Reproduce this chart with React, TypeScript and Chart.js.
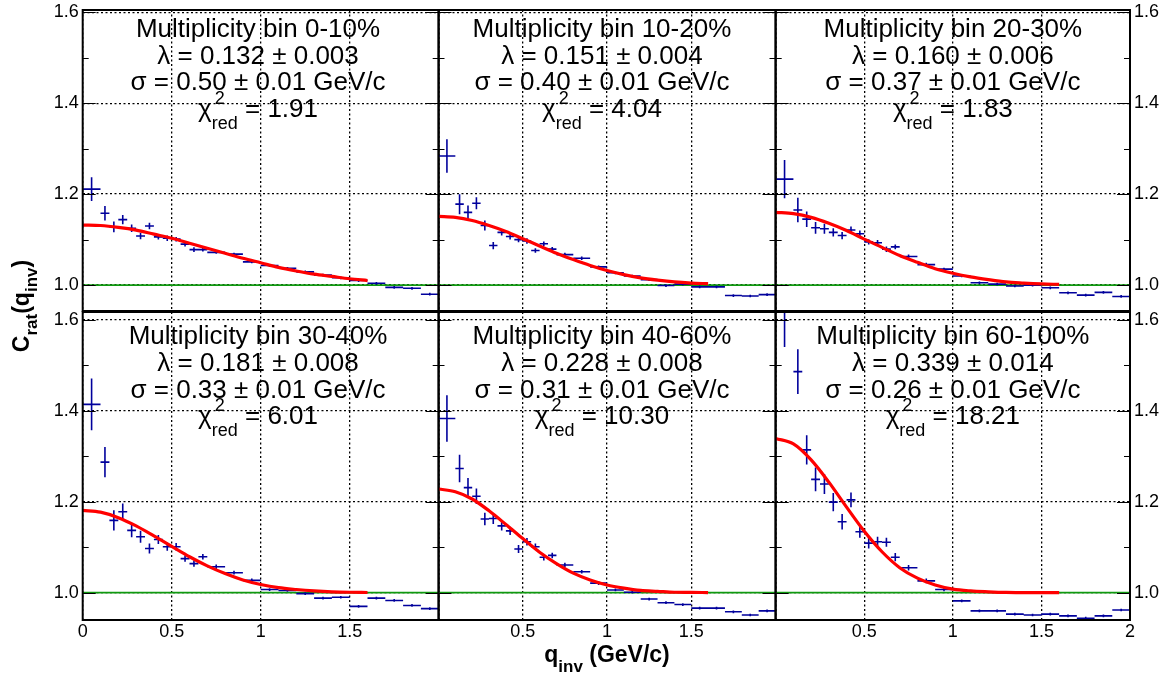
import React, { useEffect, useRef } from 'react';
import { Chart, registerables } from 'chart.js';

Chart.register(...registerables);

const W = 1168;
const H = 680;
const FONT = "'Liberation Sans', Arial, Helvetica, sans-serif";

// ---- data ----
const qCenters = [0.05, 0.125, 0.175, 0.225, 0.275, 0.325, 0.375, 0.425, 0.475, 0.525, 0.575, 0.625, 0.675,
  0.75, 0.85, 0.95, 1.05, 1.15, 1.25, 1.35, 1.45, 1.55, 1.65, 1.75, 1.85, 1.95];
const qHalfWidths = [0.05, 0.025, 0.025, 0.025, 0.025, 0.025, 0.025, 0.025, 0.025, 0.025, 0.025, 0.025, 0.025,
  0.05, 0.05, 0.05, 0.05, 0.05, 0.05, 0.05, 0.05, 0.05, 0.05, 0.05, 0.05, 0.05];

const c0_10 = [1.211, 1.158, 1.128, 1.144, 1.125, 1.108, 1.130, 1.106, 1.103, 1.101, 1.090, 1.078, 1.078,
  1.072, 1.068, 1.051, 1.043, 1.037, 1.029, 1.022, 1.016, 1.010, 1.004, 0.995, 0.993, 0.980];
const e0_10 = [0.026, 0.016, 0.012, 0.010, 0.008, 0.007, 0.007, 0.006, 0.006, 0.005, 0.005, 0.005, 0.004,
  0.003, 0.003, 0.003, 0.003, 0.003, 0.003, 0.003, 0.003, 0.003, 0.003, 0.003, 0.003, 0.003];

const c10_20 = [1.284, 1.178, 1.160, 1.180, 1.131, 1.087, 1.116, 1.107, 1.100, 1.097, 1.076, 1.091, 1.079,
  1.067, 1.059, 1.040, 1.027, 1.020, 1.012, 0.999, 1.002, 0.996, 0.996, 0.977, 0.976, 0.979];
const e10_20 = [0.037, 0.022, 0.015, 0.013, 0.011, 0.008, 0.007, 0.007, 0.006, 0.006, 0.005, 0.005, 0.005,
  0.004, 0.004, 0.003, 0.003, 0.003, 0.003, 0.003, 0.003, 0.003, 0.003, 0.003, 0.003, 0.003];

const c20_30 = [1.233, 1.165, 1.145, 1.126, 1.124, 1.116, 1.109, 1.121, 1.113, 1.095, 1.093, 1.079, 1.084,
  1.063, 1.045, 1.035, 1.020, 1.005, 1.002, 0.998, 1.000, 0.994, 0.983, 0.978, 0.984, 0.975];
const e20_30 = [0.042, 0.027, 0.017, 0.013, 0.011, 0.009, 0.008, 0.008, 0.007, 0.006, 0.006, 0.006, 0.005,
  0.004, 0.004, 0.003, 0.003, 0.003, 0.003, 0.003, 0.003, 0.003, 0.003, 0.003, 0.003, 0.003];

const c30_40 = [1.414, 1.287, 1.159, 1.178, 1.137, 1.123, 1.097, 1.117, 1.101, 1.101, 1.075, 1.064, 1.079,
  1.057, 1.044, 1.027, 1.007, 1.005, 0.998, 0.988, 0.990, 0.970, 0.988, 0.983, 0.972, 0.965];
const e30_40 = [0.057, 0.033, 0.022, 0.018, 0.015, 0.013, 0.011, 0.010, 0.009, 0.008, 0.007, 0.007, 0.006,
  0.005, 0.004, 0.004, 0.003, 0.003, 0.003, 0.003, 0.003, 0.003, 0.003, 0.003, 0.003, 0.003];

const c40_60 = [1.383, 1.273, 1.231, 1.212, 1.162, 1.163, 1.147, 1.136, 1.096, 1.112, 1.101, 1.078, 1.082,
  1.061, 1.046, 1.021, 1.006, 1.001, 0.986, 0.978, 0.974, 0.966, 0.966, 0.958, 0.951, 0.960];
const e40_60 = [0.051, 0.030, 0.021, 0.017, 0.014, 0.012, 0.010, 0.009, 0.009, 0.008, 0.007, 0.007, 0.006,
  0.005, 0.004, 0.004, 0.003, 0.003, 0.003, 0.003, 0.003, 0.003, 0.003, 0.003, 0.003, 0.003];

const c60_100 = [1.66, 1.486, 1.314, 1.249, 1.239, 1.199, 1.156, 1.204, 1.134, 1.109, 1.112, 1.111, 1.078,
  1.055, 1.026, 1.007, 0.982, 0.960, 0.960, 0.953, 0.951, 0.953, 0.949, 0.944, 0.949, 0.962];
const e60_100 = [0.12, 0.049, 0.032, 0.026, 0.022, 0.020, 0.017, 0.016, 0.013, 0.012, 0.011, 0.010, 0.009,
  0.006, 0.005, 0.004, 0.003, 0.003, 0.003, 0.003, 0.003, 0.003, 0.003, 0.003, 0.003, 0.003];

// fit curves
const fitQ = [0, 0.1, 0.2, 0.3, 0.4, 0.5, 0.6, 0.7, 0.8, 0.9, 1.0, 1.1, 1.2, 1.3, 1.4, 1.5, 1.6];
const fit0_10 = [1.132, 1.131, 1.127, 1.121, 1.112, 1.103, 1.092, 1.081, 1.070, 1.059, 1.049, 1.039, 1.031, 1.024, 1.019, 1.014, 1.010];
const fit10_20 = [1.151, 1.149, 1.142, 1.131, 1.118, 1.102, 1.086, 1.070, 1.056, 1.043, 1.032, 1.023, 1.016, 1.011, 1.007, 1.0045, 1.003];
const fit20_30 = [1.160, 1.157, 1.149, 1.136, 1.120, 1.101, 1.083, 1.065, 1.050, 1.036, 1.026, 1.018, 1.012, 1.007, 1.0045, 1.0026, 1.0015];
const fit30_40 = [1.181, 1.177, 1.165, 1.147, 1.125, 1.102, 1.079, 1.059, 1.042, 1.028, 1.018, 1.011, 1.007, 1.004, 1.002, 1.001, 1.0005];
const fit40_60 = [1.228, 1.222, 1.206, 1.180, 1.150, 1.119, 1.089, 1.064, 1.043, 1.028, 1.017, 1.010, 1.005, 1.003, 1.001, 1.0007, 1.0003];
const fit60_100 = [1.339, 1.327, 1.292, 1.243, 1.188, 1.135, 1.090, 1.055, 1.032, 1.017, 1.008, 1.004, 1.002, 1.0006, 1.0002, 1.0001, 1.0];

const binLabels = ['Multiplicity bin 0-10%', 'Multiplicity bin 10-20%', 'Multiplicity bin 20-30%',
  'Multiplicity bin 30-40%', 'Multiplicity bin 40-60%', 'Multiplicity bin 60-100%'];
const lambdaLabels = ['0.132 \u00b1 0.003', '0.151 \u00b1 0.004', '0.160 \u00b1 0.006', '0.181 \u00b1 0.008', '0.228 \u00b1 0.008', '0.339 \u00b1 0.014'];
const sigmaLabels = ['0.50 \u00b1 0.01', '0.40 \u00b1 0.01', '0.37 \u00b1 0.01', '0.33 \u00b1 0.01', '0.31 \u00b1 0.01', '0.26 \u00b1 0.01'];
const chi2Labels = ['1.91', '4.04', '1.83', '6.01', '10.30', '18.21'];

const yTickValues = [1.0, 1.2, 1.4, 1.6];
const yMinorValues = [1.1, 1.3, 1.5];
const xTickValues = [0, 0.5, 1, 1.5, 2];
const xLabelsShown = [[], [], [], ['0', '0.5', '1', '1.5'], ['0.5', '1', '1.5'], ['0.5', '1', '1.5', '2']];

// ---- layout (pixels) ----
const colLeft = [82.7, 438.5, 775.7];
const colRight = [438.7, 775.5, 1130];
const rowTop = [10, 312];
const rowBottom = [311, 620];
const rowYMin = [0.943, 0.94];
const rowYMax = [1.605, 1.617];
const textQ = [0.985, 0.97, 1.0];
const textBaseValue = 1.546;
const AXIS_BAND = 50;

const panels = [
  { vals: c0_10, errs: e0_10, fit: fit0_10 },
  { vals: c10_20, errs: e10_20, fit: fit10_20 },
  { vals: c20_30, errs: e20_30, fit: fit20_30 },
  { vals: c30_40, errs: e30_40, fit: fit30_40 },
  { vals: c40_60, errs: e40_60, fit: fit40_60 },
  { vals: c60_100, errs: e60_100, fit: fit60_100 },
];

function errorSegments(vals: number[], errs: number[]) {
  const pts: { x: number; y: number | null }[] = [];
  qCenters.forEach((q, i) => {
    const hw = qHalfWidths[i];
    const v = vals[i];
    const e = errs[i];
    pts.push({ x: q - hw, y: v }, { x: q + hw, y: v }, { x: q + hw, y: null });
    pts.push({ x: q, y: v - e }, { x: q, y: v + e }, { x: q, y: null });
  });
  return pts;
}

const fmtX = (v: number) => String(Math.round(v * 10) / 10);

type Part = { t: string; f: string; dy?: number };

function drawRich(ctx: CanvasRenderingContext2D, parts: Part[], cx: number, by: number) {
  let total = 0;
  parts.forEach((p) => { ctx.font = p.f; total += ctx.measureText(p.t).width; });
  let x = cx - total / 2;
  ctx.textAlign = 'left';
  ctx.textBaseline = 'alphabetic';
  parts.forEach((p) => {
    ctx.font = p.f;
    ctx.fillText(p.t, x, by + (p.dy || 0));
    x += ctx.measureText(p.t).width;
  });
}

const zeroPad = (s: any) => {
  s.paddingTop = 0; s.paddingBottom = 0; s.paddingLeft = 0; s.paddingRight = 0;
};

function makeConfig(i: number): any {
  const col = i % 3;
  const row = Math.floor(i / 3);
  const p = panels[i];
  const yMin = rowYMin[row];
  const yMax = rowYMax[row];
  const shownX = xLabelsShown[i];
  const leftBand = col === 0 ? AXIS_BAND : 0;
  const rightBand = col === 2 ? AXIS_BAND : 0;
  const bottomBand = row === 1 ? AXIS_BAND : 0;

  const panelPlugin = {
    id: 'panelDeco' + i,
    afterDraw(chart: any) {
      const { ctx, chartArea: a, scales } = chart;
      const y = scales.y;
      const x = scales.x;
      ctx.save();
      // tick marks inside frame
      ctx.strokeStyle = '#000';
      ctx.lineWidth = 1;
      ctx.beginPath();
      yTickValues.forEach((v) => {
        const py = Math.round(y.getPixelForValue(v)) + 0.5;
        ctx.moveTo(a.left, py); ctx.lineTo(a.left + 13, py);
        ctx.moveTo(a.right, py); ctx.lineTo(a.right - 13, py);
      });
      yMinorValues.forEach((v) => {
        const py = Math.round(y.getPixelForValue(v)) + 0.5;
        ctx.moveTo(a.left, py); ctx.lineTo(a.left + 6, py);
        ctx.moveTo(a.right, py); ctx.lineTo(a.right - 6, py);
      });
      ctx.stroke();
      // frame
      ctx.lineWidth = 2;
      ctx.strokeRect(a.left, a.top, a.right - a.left, a.bottom - a.top);

      // panel text
      ctx.fillStyle = '#000';
      const cx = x.getPixelForValue(textQ[col]);
      const b0 = y.getPixelForValue(textBaseValue);
      const big = `26px ${FONT}`;
      const small = `18px ${FONT}`;
      ctx.textAlign = 'center';
      ctx.textBaseline = 'alphabetic';
      ctx.font = big;
      ctx.fillText(binLabels[i], cx, b0);
      ctx.fillText('\u03bb = ' + lambdaLabels[i], cx, b0 + 26.7);
      ctx.fillText('\u03c3 = ' + sigmaLabels[i] + ' GeV/c', cx, b0 + 53.4);
      // chi2 line
      const by = b0 + 80.1;
      ctx.font = big;
      const wChi = ctx.measureText('\u03c7').width;
      const rest = ' = ' + chi2Labels[i];
      const wRest = ctx.measureText(rest).width;
      ctx.font = small;
      const wStack = Math.max(ctx.measureText('2').width + 3, ctx.measureText('red').width);
      let xx = cx - (wChi + wStack + wRest) / 2;
      ctx.textAlign = 'left';
      ctx.font = big;
      ctx.fillText('\u03c7', xx, by);
      xx += wChi;
      ctx.font = small;
      ctx.fillText('2', xx + 3, by - 13);
      ctx.fillText('red', xx, by + 12);
      xx += wStack;
      ctx.font = big;
      ctx.fillText(rest, xx, by);

      // axis titles (drawn once, on the bottom-left panel)
      if (i === 3) {
        const tb = `bold 23px ${FONT}`;
        const ts = `bold 17px ${FONT}`;
        ctx.save();
        ctx.translate(29, 306);
        ctx.rotate(-Math.PI / 2);
        drawRich(ctx, [
          { t: 'C', f: tb }, { t: 'rat', f: ts, dy: 8 }, { t: '(q', f: tb }, { t: 'inv', f: ts, dy: 8 }, { t: ')', f: tb },
        ], 0, 0);
        ctx.restore();
        drawRich(ctx, [
          { t: 'q', f: tb }, { t: 'inv', f: ts, dy: 10 }, { t: ' (GeV/c)', f: tb },
        ], 607, 662);
      }
      ctx.restore();
    },
  };

  const tickFont = { family: FONT, size: 18 };

  const scales: any = {
    x: {
      type: 'linear', min: 0, max: 2, position: 'bottom',
      afterFit: (s: any) => { s.height = bottomBand; zeroPad(s); },
      afterBuildTicks: (s: any) => { s.ticks = xTickValues.map((v) => ({ value: v })); },
      grid: { color: '#000', lineWidth: 1.3, drawTicks: false },
      border: { display: false, dash: [2, 2.5] },
      ticks: {
        display: shownX.length > 0, autoSkip: false, maxRotation: 0, minRotation: 0, padding: 1,
        font: tickFont, color: '#000',
        callback: (v: number) => (shownX.includes(fmtX(v)) ? fmtX(v) : ''),
      },
    },
    y: {
      type: 'linear', min: yMin, max: yMax, position: 'left',
      afterFit: (s: any) => { s.width = leftBand; zeroPad(s); },
      afterBuildTicks: (s: any) => { s.ticks = yTickValues.map((v) => ({ value: v })); },
      grid: { color: '#000', lineWidth: 1.3, drawTicks: false },
      border: { display: false, dash: [2, 2.5] },
      ticks: {
        display: col === 0, padding: 4, font: tickFont, color: '#000',
        callback: (v: number) => v.toFixed(1),
      },
    },
  };
  if (col === 2) {
    scales.y2 = {
      type: 'linear', min: yMin, max: yMax, position: 'right',
      afterFit: (s: any) => { s.width = rightBand; zeroPad(s); },
      afterBuildTicks: (s: any) => { s.ticks = yTickValues.map((v) => ({ value: v })); },
      grid: { display: false, drawTicks: false },
      border: { display: false },
      ticks: { display: true, padding: 4, font: tickFont, color: '#000', callback: (v: number) => v.toFixed(1) },
    };
  }

  return {
    type: 'line',
    data: {
      datasets: [
        {
          label: 'fit',
          data: fitQ.map((q, k) => ({ x: q, y: p.fit[k] })),
          borderColor: '#ff0000', borderWidth: 3.2, pointRadius: 0,
          cubicInterpolationMode: 'monotone', fill: false, clip: 0,
        },
        {
          label: 'data',
          data: errorSegments(p.vals, p.errs),
          borderColor: '#00009c', borderWidth: 1.6, pointRadius: 0,
          spanGaps: false, tension: 0, fill: false, clip: 0,
        },
        {
          label: 'unity',
          data: [{ x: 0, y: 1 }, { x: 2, y: 1 }],
          borderColor: '#109a10', borderWidth: 1.8, pointRadius: 0, fill: false, clip: 0,
        },
      ],
    },
    options: {
      responsive: false, maintainAspectRatio: false, animation: false, devicePixelRatio: 1,
      events: [],
      layout: {
        padding: {
          left: colLeft[col] - leftBand,
          right: W - colRight[col] - rightBand,
          top: rowTop[row],
          bottom: H - rowBottom[row] - bottomBand,
        },
      },
      plugins: { legend: { display: false }, tooltip: { enabled: false }, title: { display: false } },
      scales,
    },
    plugins: [panelPlugin],
  };
}

export default function App() {
  const refs = useRef<(HTMLCanvasElement | null)[]>([]);
  useEffect(() => {
    const charts = panels.map((_, i) => new Chart(refs.current[i] as HTMLCanvasElement, makeConfig(i)));
    return () => charts.forEach((c) => c.destroy());
  }, []);
  return (
    <div style={{ position: 'fixed', left: 0, top: 0, width: W, height: H, background: '#fff' }}>
      {panels.map((_, i) => (
        <canvas
          key={i}
          ref={(el) => { refs.current[i] = el; }}
          width={W}
          height={H}
          style={{ position: 'absolute', left: 0, top: 0, width: W, height: H }}
        />
      ))}
    </div>
  );
}
